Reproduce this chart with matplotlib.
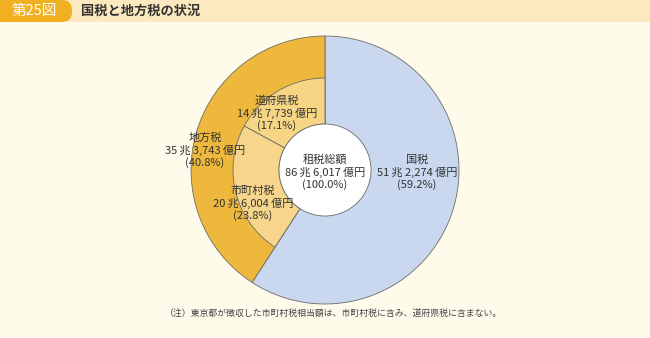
import matplotlib.pyplot as plt
from matplotlib.patches import Circle, FancyBboxPatch, Rectangle

plt.rcParams['font.family'] = ['Noto Sans CJK JP', 'DejaVu Sans']

# values in 億円
outer_names = ["国税", "地方税"]
outer_values = [512274, 353743]
outer_pct = [59.2, 40.8]
inner_names = ["道府県税", "市町村税"]
inner_values = [147739, 206004]
inner_pct = [17.1, 23.8]
total_value = 866017
total_pct = 100.0


def fmt(v):
    cho, oku = divmod(v, 10000)
    return f"{cho}\u2009兆\u2009{oku:,}\u2009億円"


W, H = 650, 338
fig = plt.figure(figsize=(6.5, 3.38), dpi=100)
fig.patch.set_facecolor("#FFFBEB")
ax = fig.add_axes([0, 0, 1, 1])
ax.set_facecolor("#FFFBEB")

cx, cy = 325, H - 170
r_out, r_mid, r_in = 134, 92, 46
edge = dict(edgecolor="#6b6b6b", linewidth=0.6)

ax.pie(outer_values, radius=r_out, center=(cx, cy), startangle=90,
       counterclock=False, colors=["#C9D8EF", "#EEB83C"],
       wedgeprops=edge, frame=True)

inner_full = inner_values + [total_value - sum(inner_values)]
wedges, _ = ax.pie(inner_full, radius=r_mid, center=(cx, cy), startangle=90,
                   counterclock=True, colors=["#F6D585", "#F7D68C", "none"],
                   wedgeprops=dict(width=r_mid - r_in, **edge), frame=True)
wedges[2].set_visible(False)
ax.add_patch(Circle((cx, cy), r_in, facecolor="white", **edge))

ax.set_xlim(0, W)
ax.set_ylim(0, H)
ax.set_aspect("auto")
ax.axis("off")

tc = "#333333"
fs = 8.0


def label(x, y, name, v, p):
    ax.text(x, H - y + 12.5, name, ha="center", va="center", fontsize=fs, color=tc)
    ax.text(x, H - y, fmt(v), ha="center", va="center", fontsize=fs, color=tc)
    ax.text(x, H - y - 12.5, f"({p:.1f}%)", ha="center", va="center", fontsize=fs, color=tc)


label(417, 172, outer_names[0], outer_values[0], outer_pct[0])
label(205, 150, outer_names[1], outer_values[1], outer_pct[1])
label(277, 113, inner_names[0], inner_values[0], inner_pct[0])
label(253, 203, inner_names[1], inner_values[1], inner_pct[1])
label(325, 172, "租税総額", total_value, total_pct)

# header
ax.add_patch(Rectangle((60, H - 22), W - 60, 22, facecolor="#FCE9C0", edgecolor="none"))
ax.add_patch(FancyBboxPatch((-10, H - 22), 82, 22, boxstyle="round,pad=0,rounding_size=10",
                            facecolor="#F0B020", edgecolor="none"))
ax.text(12, H - 11, "第25図", ha="left", va="center", fontsize=10.5, color="white")
ax.text(81, H - 11, "国税と地方税の状況", ha="left", va="center", fontsize=9.5,
        color="#333333", fontweight="bold")

ax.text(165, H - 314, "（注）東京都が徴収した市町村税相当額は、市町村税に含み、道府県税に含まない。",
        ha="left", va="center", fontsize=6.4, color="#444444")

plt.savefig("out.png", dpi=100, facecolor=fig.get_facecolor())
